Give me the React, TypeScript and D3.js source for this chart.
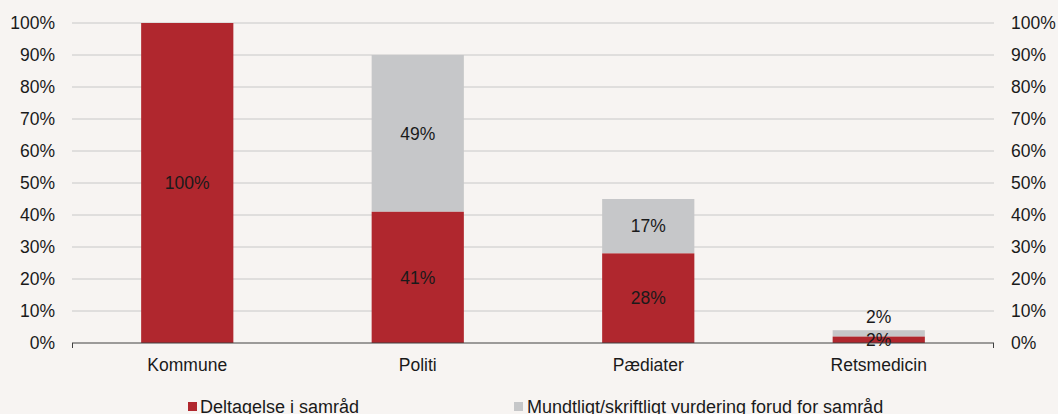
import React from 'react';
import * as d3 from 'd3';

const categories = ['Kommune', 'Politi', 'Pædiater', 'Retsmedicin'];
const deltagelse = [100, 41, 28, 2];
const vurdering = [0, 49, 17, 2];
const seriesNames = ['Deltagelse i samråd', 'Mundtligt/skriftligt vurdering forud for samråd'];
const ticks = [0, 10, 20, 30, 40, 50, 60, 70, 80, 90, 100];

const width = 1058;
const height = 414;
const margin = { top: 23, right: 64, bottom: 71, left: 72 };
const red = '#b0272e';
const grey = '#c6c7c9';
const font = '"Liberation Sans", Arial, sans-serif';
const fs = 17.5;

export default function App() {
  const x = d3.scaleBand()
    .domain(categories)
    .range([margin.left, width - margin.right])
    .paddingInner(0.6)
    .paddingOuter(0.3);

  const y = d3.scaleLinear()
    .domain([0, 100])
    .range([height - margin.bottom, margin.top]);

  const x0 = margin.left;
  const x1 = width - margin.right;
  const yBase = y(0);

  return (
    <svg width={width} height={height} style={{ position: 'absolute', left: 0, top: 0, background: '#f7f4f2' }}>
      <rect width={width} height={height} fill="#f7f4f2" />
      {ticks.map(t => (
        <g key={t}>
          {t > 0 && <line x1={x0} x2={x1} y1={y(t)} y2={y(t)} stroke="#c8c8c8" strokeWidth={1} />}
          <text x={55} y={y(t)} dy="0.35em" textAnchor="end" fontFamily={font} fontSize={fs} fill="#1a1a1a">{t}%</text>
          <text x={1011} y={y(t)} dy="0.35em" textAnchor="start" fontFamily={font} fontSize={fs} fill="#1a1a1a">{t}%</text>
        </g>
      ))}
      {categories.map((c, i) => {
        const bx = x(c) as number;
        const bw = x.bandwidth();
        const cx = bx + bw / 2;
        const redTop = y(deltagelse[i]);
        const greyTop = y(deltagelse[i] + vurdering[i]);
        const small = vurdering[i] < 5;
        return (
          <g key={c}>
            {vurdering[i] > 0 && (
              <rect x={bx} y={greyTop} width={bw} height={redTop - greyTop} fill={grey} />
            )}
            <rect x={bx} y={redTop} width={bw} height={yBase - redTop} fill={red} />
            <text x={cx} y={(redTop + yBase) / 2} dy="0.35em" textAnchor="middle" fontFamily={font} fontSize={fs} fill="#1a1a1a">
              {deltagelse[i]}%
            </text>
            {vurdering[i] > 0 && (
              <text x={cx} y={small ? greyTop - 13 : (greyTop + redTop) / 2} dy="0.35em" textAnchor="middle" fontFamily={font} fontSize={fs} fill="#1a1a1a">
                {vurdering[i]}%
              </text>
            )}
            <text x={cx} y={371} textAnchor="middle" fontFamily={font} fontSize={fs} fill="#1a1a1a">{c}</text>
          </g>
        );
      })}
      <line x1={x0} x2={x1} y1={yBase} y2={yBase} stroke="#404040" strokeWidth={1} />
      <line x1={x0 + 0.5} x2={x0 + 0.5} y1={yBase} y2={yBase + 5} stroke="#404040" strokeWidth={1} />
      <line x1={x1 - 0.5} x2={x1 - 0.5} y1={yBase} y2={yBase + 5} stroke="#404040" strokeWidth={1} />
      <g>
        <rect x={188} y={402} width={9} height={9} fill={red} />
        <text x={200} y={413} fontFamily={font} fontSize={18} fill="#1a1a1a">{seriesNames[0]}</text>
        <rect x={514} y={402} width={9} height={9} fill={grey} />
        <text x={527} y={413} fontFamily={font} fontSize={18} fill="#1a1a1a">{seriesNames[1]}</text>
      </g>
    </svg>
  );
}
